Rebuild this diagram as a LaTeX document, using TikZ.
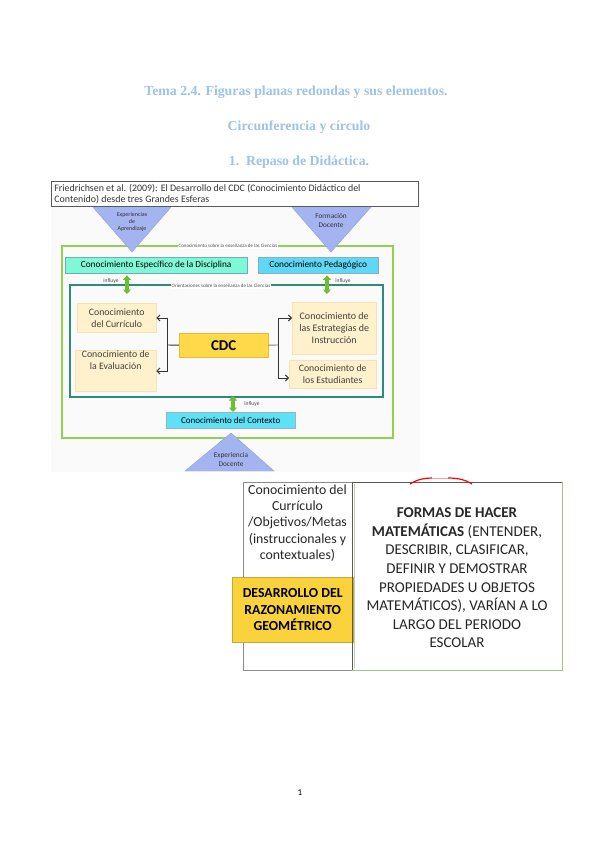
\documentclass[tikz,border=0pt]{standalone}
\usepackage{fontspec}
\setmainfont{Carlito}
\newfontfamily\headfont{Liberation Serif}
\usetikzlibrary{arrows.meta,calc}
\definecolor{headblue}{RGB}{157,195,230}
\definecolor{tri}{RGB}{164,180,240}
\definecolor{tridraw}{RGB}{140,160,225}
\definecolor{outgreen}{RGB}{146,208,80}
\definecolor{inteal}{RGB}{46,139,122}
\definecolor{aqua}{RGB}{128,248,216}
\definecolor{sky}{RGB}{95,216,245}
\definecolor{ctx}{RGB}{94,224,247}
\definecolor{pale}{RGB}{255,241,204}
\definecolor{paleedge}{RGB}{248,226,176}
\definecolor{cdc}{RGB}{255,217,74}
\definecolor{cdcedge}{RGB}{232,190,48}
\definecolor{arrgreen}{RGB}{110,190,47}
\definecolor{gold}{RGB}{250,211,60}
\definecolor{framegray}{RGB}{90,90,90}
\definecolor{softgreen}{RGB}{160,200,130}
\tikzset{
  heading/.style={font=\headfont\bfseries\fontsize{13.8}{15}\selectfont, text=headblue},
  box/.style={draw, anchor=north west, inner sep=0pt, align=center},
  paleBox/.style={box, draw=paleedge, fill=pale, font=\fontsize{9.8}{12}\selectfont, text=black!75},
  tiny/.style={font=\fontsize{5}{6}\selectfont, fill=white, inner sep=1pt, text=black!70},
  dbl/.style={line width=3.2pt, arrgreen, {Triangle[width=8pt,length=4.5pt]}-{Triangle[width=8pt,length=4.5pt]}},
  conn/.style={line width=0.9pt, black!80, -{Straight Barb[length=3pt]}},
  tritext/.style={font=\fontsize{7.3}{9}\selectfont, align=center, text=black!80},
}
\begin{document}
\begin{tikzpicture}[x=1pt,y=-1pt]
\useasboundingbox (0,0) rectangle (599,848);
\fill[white] (0,0) rectangle (599,848);

% headings
\node[heading] (h1) at (296,92) {Tema 2.4. Figuras planas redondas y sus elementos.};
\node[heading] (h2) at (299,127) {Circunferencia y círculo};
\node[heading] (h3) at (299,162) {1.\ \ Repaso de Didáctica.};

% background of the picture
\fill[black!2] (51,181) rectangle (420,472);

% outer green frame
\draw[outgreen, line width=1.3pt] (62,246) rectangle (393,438);
% top triangles
\filldraw[fill=tri, draw=tridraw] (92,206) -- (172,206) -- (132,252) -- cycle;
\filldraw[fill=tri, draw=tridraw] (291,206) -- (372,206) -- (331,252) -- cycle;
\node[tritext, font=\fontsize{6}{7}\selectfont] (tl) at (132,222) {Experiencias\\de\\Aprendizaje};
\node[tritext] (tr) at (331,221) {Formación\\Docente};

% top caption box
\node[box, draw=framegray, fill=white, line width=0.9pt, minimum width=367pt, minimum height=25pt, align=flush left, text width=363pt, font=\fontsize{9.9}{11.3}\selectfont, text=black!80] (cap) at (51,181)
 {\hspace{1pt}Friedrichsen et al. (2009): El Desarrollo del CDC (Conocimiento Didáctico del\\\hspace{1pt}Contenido) desde tres Grandes Esferas};

\node[tiny] (lout) at (228,246) {Conocimiento sobre la enseñanza de las Ciencias};

% two top knowledge boxes
\node[box, draw=teal!60, fill=aqua, minimum width=182pt, minimum height=16pt, font=\fontsize{9.3}{10}\selectfont] (disc) at (65,257) {Conocimiento Específico de la Disciplina};
\node[box, draw=cyan!60!black!60, fill=sky, minimum width=120pt, minimum height=16pt, font=\fontsize{9.3}{10}\selectfont] (ped) at (258,257) {Conocimiento Pedagógico};

% inner teal frame
\draw[inteal, line width=1.2pt] (70,285) rectangle (383,397);
\node[tiny] (lin) at (221,286) {Orientaciones sobre la enseñanza de las Ciencias};

% green double arrows
\draw[dbl] (disc.south -| 127,0) ++(0,2) -- (127,294);
\draw[dbl] (ped.south -| 327,0) ++(0,2) -- (327,294);
\node[font=\fontsize{5.5}{6}\selectfont, text=black!70] (inf1) at (111,281) {influye};
\node[font=\fontsize{5.5}{6}\selectfont, text=black!70] (inf2) at (343,281) {influye};

% inner boxes
\node[paleBox, minimum width=79pt, minimum height=29pt] (curr) at (77,303) {Conocimiento\\del Currículo};
\node[paleBox, minimum width=81pt, minimum height=41pt, anchor=north west] (eval) at (75,350) {Conocimiento de\\la Evaluación\\[9pt]};
\node[paleBox, minimum width=84pt, minimum height=52pt, font=\fontsize{10}{12.3}\selectfont] (estr) at (292,302) {Conocimiento de\\las Estrategias de\\Instrucción};
\node[paleBox, minimum width=87pt, minimum height=28pt] (estu) at (289,360) {Conocimiento de\\los Estudiantes};
\node[box, draw=cdcedge, fill=cdc, minimum width=89pt, minimum height=24pt, font=\bfseries\fontsize{15}{16}\selectfont] (cdcn) at (179,333) {CDC};

% connectors
\coordinate (lj) at (167,345);
\coordinate (rj) at (278,345);
\draw[line width=0.9pt, black!80] (cdcn.west) -- (lj);
\draw[line width=0.9pt, black!50] (cdcn.east) -- (rj);
\draw[conn] (lj) |- (curr.east |- 0,318);
\draw[conn] (lj) |- (eval.east |- 0,371);
\draw[conn] (rj) |- (estr.west |- 0,318);
\draw[conn] (rj) |- (estu.west |- 0,378);

% bottom
\node[box, draw=cyan!50!black!50, fill=ctx, minimum width=129pt, minimum height=16pt, font=\fontsize{9}{10}\selectfont] (ctxn) at (166,412) {Conocimiento del Contexto};
\draw[dbl] (233,396) -- (ctxn.north -| 233,0);
\node[font=\fontsize{5.5}{6}\selectfont, text=black!70] (inf3) at (252,404) {influye};
\filldraw[fill=tri, draw=tridraw] (185,471) -- (231,433) -- (274,471) -- cycle;
\node[tritext] (tb) at (231,460) {Experiencia\\Docente};

% second figure
\draw[framegray!70, line width=1pt] (243,482) rectangle (352,670);
\node[align=center, font=\fontsize{13.8}{16.4}\selectfont, text=black!85] (lt) at (297.5,523) {Conocimiento del\\Currículo\\/Objetivos/Metas\\(instruccionales y\\contextuales)};
\node[box, draw=gold!80!black, fill=gold, minimum width=121pt, minimum height=65pt, font=\bfseries\fontsize{13.8}{16.5}\selectfont] (geo) at (232,577) {DESARROLLO DEL\\RAZONAMIENTO\\GEOMÉTRICO};
\draw[framegray, line width=1pt] (352,670) -- (352,482) -- (562,482);
\draw[softgreen, line width=1pt] (562,482) -- (562,670) -- (352,670);
\draw[softgreen!70, line width=0.6pt] (354,484) -- (354,668);
\node[align=center, font=\fontsize{15}{18.6}\selectfont, text=black!85] (rt) at (457,578) {\textbf{FORMAS DE HACER}\\\textbf{MATEMÁTICAS} (ENTENDER,\\DESCRIBIR, CLASIFICAR,\\DEFINIR Y DEMOSTRAR\\PROPIEDADES U OBJETOS\\MATEMÁTICOS), VARÍAN A LO\\LARGO DEL PERIODO\\ESCOLAR};
\draw[red, line width=1.2pt] (410,484) .. controls (418,479) and (425,478) .. (432,478);
\draw[red, line width=1.2pt] (448,478) .. controls (458,478) and (466,480) .. (472,484);
\draw[red!40, line width=1pt] (432,478) -- (448,478);

\node[font=\fontsize{9}{10}\selectfont] (pg) at (300,793) {1};
\end{tikzpicture}
\end{document}
